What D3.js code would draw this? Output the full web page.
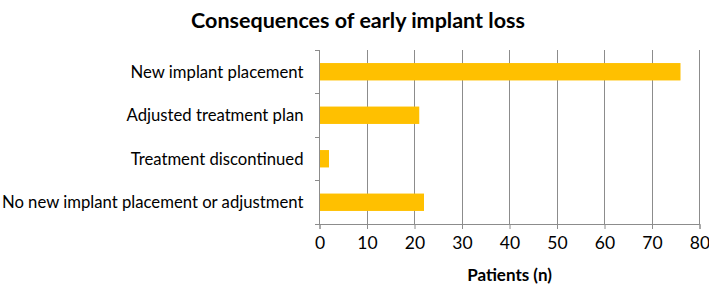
<!DOCTYPE html>
<html><head><meta charset="utf-8">
<script src="https://cdn.jsdelivr.net/npm/d3@7"></script>
<style>body{margin:0;background:#fff}svg{display:block}text{font-family:Lato,"Open Sans",sans-serif}</style>
</head><body><svg id="c" width="709" height="286"></svg>
<script>
const categories = ["New implant placement","Adjusted treatment plan","Treatment discontinued","No new implant placement or adjustment"];
const values = [76, 21, 2, 22];
const xTicks = [0,10,20,30,40,50,60,70,80];
const title = "Consequences of early implant loss";
const xTitle = "Patients (n)";

const svg = d3.select("#c");
const m = {l:319.5, r:699.5, t:50, b:224};
const x = d3.scaleLinear().domain([0,80]).range([m.l, m.r]);
const y = d3.scaleBand().domain(categories).range([m.t, m.b]).paddingInner(0.6).paddingOuter(0.3);
const yb = d3.scaleBand().domain(categories).range([m.t, m.b]);

// gridlines
svg.append("g").selectAll("line").data(xTicks.slice(1)).join("line")
  .attr("x1", d=>x(d)).attr("x2", d=>x(d)).attr("y1", m.t).attr("y2", m.b)
  .attr("stroke", "#8c8c8c").attr("stroke-width", 1).attr("shape-rendering","crispEdges");

// bars
svg.append("g").selectAll("rect").data(values).join("rect")
  .attr("x", x(0)).attr("y", (d,i)=>y(categories[i]))
  .attr("width", d=>x(d)-x(0)).attr("height", y.bandwidth())
  .attr("fill", "#ffc000");

// x axis
const xa = svg.append("g").attr("transform", `translate(0,${m.b})`)
  .call(d3.axisBottom(x).tickValues(xTicks).tickSize(5).tickPadding(8));
xa.select(".domain").attr("stroke","#8c8c8c");
xa.selectAll(".tick line").attr("stroke","#8c8c8c");
xa.selectAll("text").attr("font-size", 17.5).attr("fill","#000").attr("font-family","Lato");

// y axis
const boundaries = categories.map(c=>yb(c)).concat([m.b]);
svg.append("line").attr("x1", m.l).attr("x2", m.l).attr("y1", m.t).attr("y2", m.b)
  .attr("stroke","#8c8c8c").attr("shape-rendering","crispEdges");
svg.append("g").selectAll("line").data(boundaries).join("line")
  .attr("x1", m.l-5).attr("x2", m.l).attr("y1", d=>d).attr("y2", d=>d)
  .attr("stroke","#8c8c8c").attr("shape-rendering","crispEdges");
svg.append("g").selectAll("text").data(categories).join("text")
  .attr("x", m.l-16).attr("y", d=>yb(d)+yb.bandwidth()/2)
  .attr("dy","0.35em").attr("text-anchor","end").attr("font-size",16.7).attr("fill","#000")
  .text(d=>d);

// titles
svg.append("text").attr("x", 358).attr("y", 28).attr("text-anchor","middle")
  .attr("font-size", 21.5).attr("font-weight","bold").attr("fill","#000").text(title);
svg.append("text").attr("x", (m.l+m.r)/2).attr("y", 281).attr("text-anchor","middle")
  .attr("font-size", 17).attr("font-weight","bold").attr("fill","#000").text(xTitle);
</script></body></html>
